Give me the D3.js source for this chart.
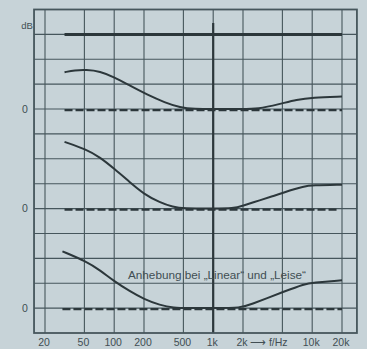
<!DOCTYPE html>
<html>
<head>
<meta charset="utf-8">
<script src="https://cdn.jsdelivr.net/npm/d3@7"></script>
<style>
  body { margin: 0; background: #c7d3d8; }
  svg { display: block; }
  .lbl { font-family: "Liberation Sans", Arial, sans-serif; fill: #414e53; }
</style>
</head>
<body>
<div class="chart"></div>
<script>
// data
// ================================
var freqTicks = [20, 50, 100, 200, 500, 1000, 2000, 5000, 10000, 20000];
var tickLabels = ["20", "50", "100", "200", "500", "1k", "2k", "", "10k", "20k"];
var dbGrid = [0, 5, 10, 15, 20, 25, 30, 35, 40, 45, 50, 55];
var panelZeros = [40, 20, 0];

var flatFreq = [31.5, 20000];
var flatDb = 55;

var curveAFreq = [31.5, 40, 52, 72, 100, 144, 214, 326, 462, 650, 1000, 2000, 2800, 4700, 7000, 10000, 20000];
var curveADb   = [7.4, 7.8, 7.9, 7.6, 6.4, 4.7, 2.9, 1.3, 0.3, 0, 0, 0, 0, 1.0, 1.9, 2.3, 2.5];

var curveBFreq = [31.5, 52, 72, 100, 144, 200, 290, 393, 500, 1000, 1600, 2000, 3000, 4000, 5000, 6300, 8000, 10000, 20000];
var curveBDb   = [13.4, 11.9, 10.3, 8.0, 5.3, 2.9, 1.2, 0.3, 0, 0, 0, 0.6, 1.7, 2.5, 3.1, 3.8, 4.4, 4.7, 4.8];

var curveCFreq = [30, 52, 72, 100, 144, 200, 290, 400, 550, 1000, 1900, 2500, 3500, 5000, 8500, 10000, 20000];
var curveCDb   = [11.4, 9.4, 7.6, 5.4, 3.4, 1.8, 0.6, 0.05, 0, 0, 0, 0.9, 2.0, 3.2, 4.9, 5.1, 5.6];

var dashFreq = [[31.5, 20000], [31.5, 18500], [30, 20000]];

var noteText = "Anhebung bei \u201ELinear\u201C und \u201ELeise\u201C";

// chart setup
// ================================
var svgWidth = 367;
var svgHeight = 349;
var ink = "#2c373b";
var gridInk = "#46565c";

var svg = d3.select(".chart")
  .append("svg")
  .attr("width", svgWidth)
  .attr("height", svgHeight);

svg.append("rect")
  .attr("width", svgWidth)
  .attr("height", svgHeight)
  .attr("fill", "#c7d3d8");

var xScale = d3.scaleLog()
  .domain([20, 20000])
  .range([45, 342]);

var yScale = d3.scaleLinear()
  .domain([-5, 60])
  .range([333, 9.5]);

var left = xScale(15.5), right = xScale(28300);

// grid
svg.selectAll(".hgrid")
  .data(dbGrid)
  .enter()
  .append("line")
  .attr("x1", left).attr("x2", right)
  .attr("y1", d => yScale(d)).attr("y2", d => yScale(d))
  .attr("stroke", gridInk)
  .attr("stroke-width", 1.1);

svg.selectAll(".vgrid")
  .data(freqTicks)
  .enter()
  .append("line")
  .attr("x1", d => xScale(d)).attr("x2", d => xScale(d))
  .attr("y1", yScale(60)).attr("y2", yScale(-5))
  .attr("stroke", gridInk)
  .attr("stroke-width", 1.1);

// thick 1k line
svg.append("line")
  .attr("x1", xScale(1000)).attr("x2", xScale(1000))
  .attr("y1", yScale(57.3)).attr("y2", yScale(-5))
  .attr("stroke", ink)
  .attr("stroke-width", 2.2);

// frame
svg.append("rect")
  .attr("x", left).attr("y", yScale(60))
  .attr("width", right - left)
  .attr("height", yScale(-5) - yScale(60))
  .attr("fill", "none")
  .attr("stroke", gridInk)
  .attr("stroke-width", 1.8);

// dashed zero lines
svg.selectAll(".zero")
  .data(panelZeros)
  .enter()
  .append("line")
  .attr("x1", (d, i) => xScale(dashFreq[i][0]))
  .attr("x2", (d, i) => xScale(dashFreq[i][1]))
  .attr("y1", d => yScale(d) + 1).attr("y2", d => yScale(d) + 1)
  .attr("stroke", ink)
  .attr("stroke-width", 2.2)
  .attr("stroke-dasharray", "8,3");

// flat top line
svg.append("line")
  .attr("x1", xScale(flatFreq[0])).attr("x2", xScale(flatFreq[1]))
  .attr("y1", yScale(flatDb)).attr("y2", yScale(flatDb))
  .attr("stroke", ink)
  .attr("stroke-width", 3);

// curves
var line = d3.line()
  .x(d => xScale(d[0]))
  .y(d => yScale(d[1]))
  .curve(d3.curveBasis);

var curves = [
  [curveAFreq, curveADb, panelZeros[0]],
  [curveBFreq, curveBDb, panelZeros[1]],
  [curveCFreq, curveCDb, panelZeros[2]]
];

curves.forEach(function (c) {
  var pts = c[0].map((f, i) => [f, c[1][i] + c[2]]);
  svg.append("path")
    .attr("d", line(pts))
    .attr("fill", "none")
    .attr("stroke", ink)
    .attr("stroke-width", 2);
});

// labels
svg.selectAll(".xlbl")
  .data(freqTicks)
  .enter()
  .append("text")
  .attr("class", "lbl")
  .attr("x", d => xScale(d) - 1)
  .attr("y", 346)
  .attr("text-anchor", "middle")
  .attr("font-size", 10.5)
  .text((d, i) => tickLabels[i]);

svg.append("text")
  .attr("class", "lbl")
  .attr("x", xScale(2000) + 7)
  .attr("y", 346)
  .attr("font-size", 10.5)
  .text("\u27F6 f/Hz");

svg.selectAll(".ylbl")
  .data(panelZeros)
  .enter()
  .append("text")
  .attr("class", "lbl")
  .attr("x", 25)
  .attr("y", d => yScale(d) + 3.5)
  .attr("text-anchor", "middle")
  .attr("font-size", 10.5)
  .text("0");

svg.append("text")
  .attr("class", "lbl")
  .attr("x", 27)
  .attr("y", 29)
  .attr("text-anchor", "middle")
  .attr("font-size", 9.5)
  .text("dB");

svg.append("text")
  .attr("class", "lbl")
  .attr("x", 128)
  .attr("y", 279)
  .attr("font-size", 10.5)
  .attr("textLength", 178)
  .attr("lengthAdjust", "spacingAndGlyphs")
  .text(noteText);
</script>
</body>
</html>
